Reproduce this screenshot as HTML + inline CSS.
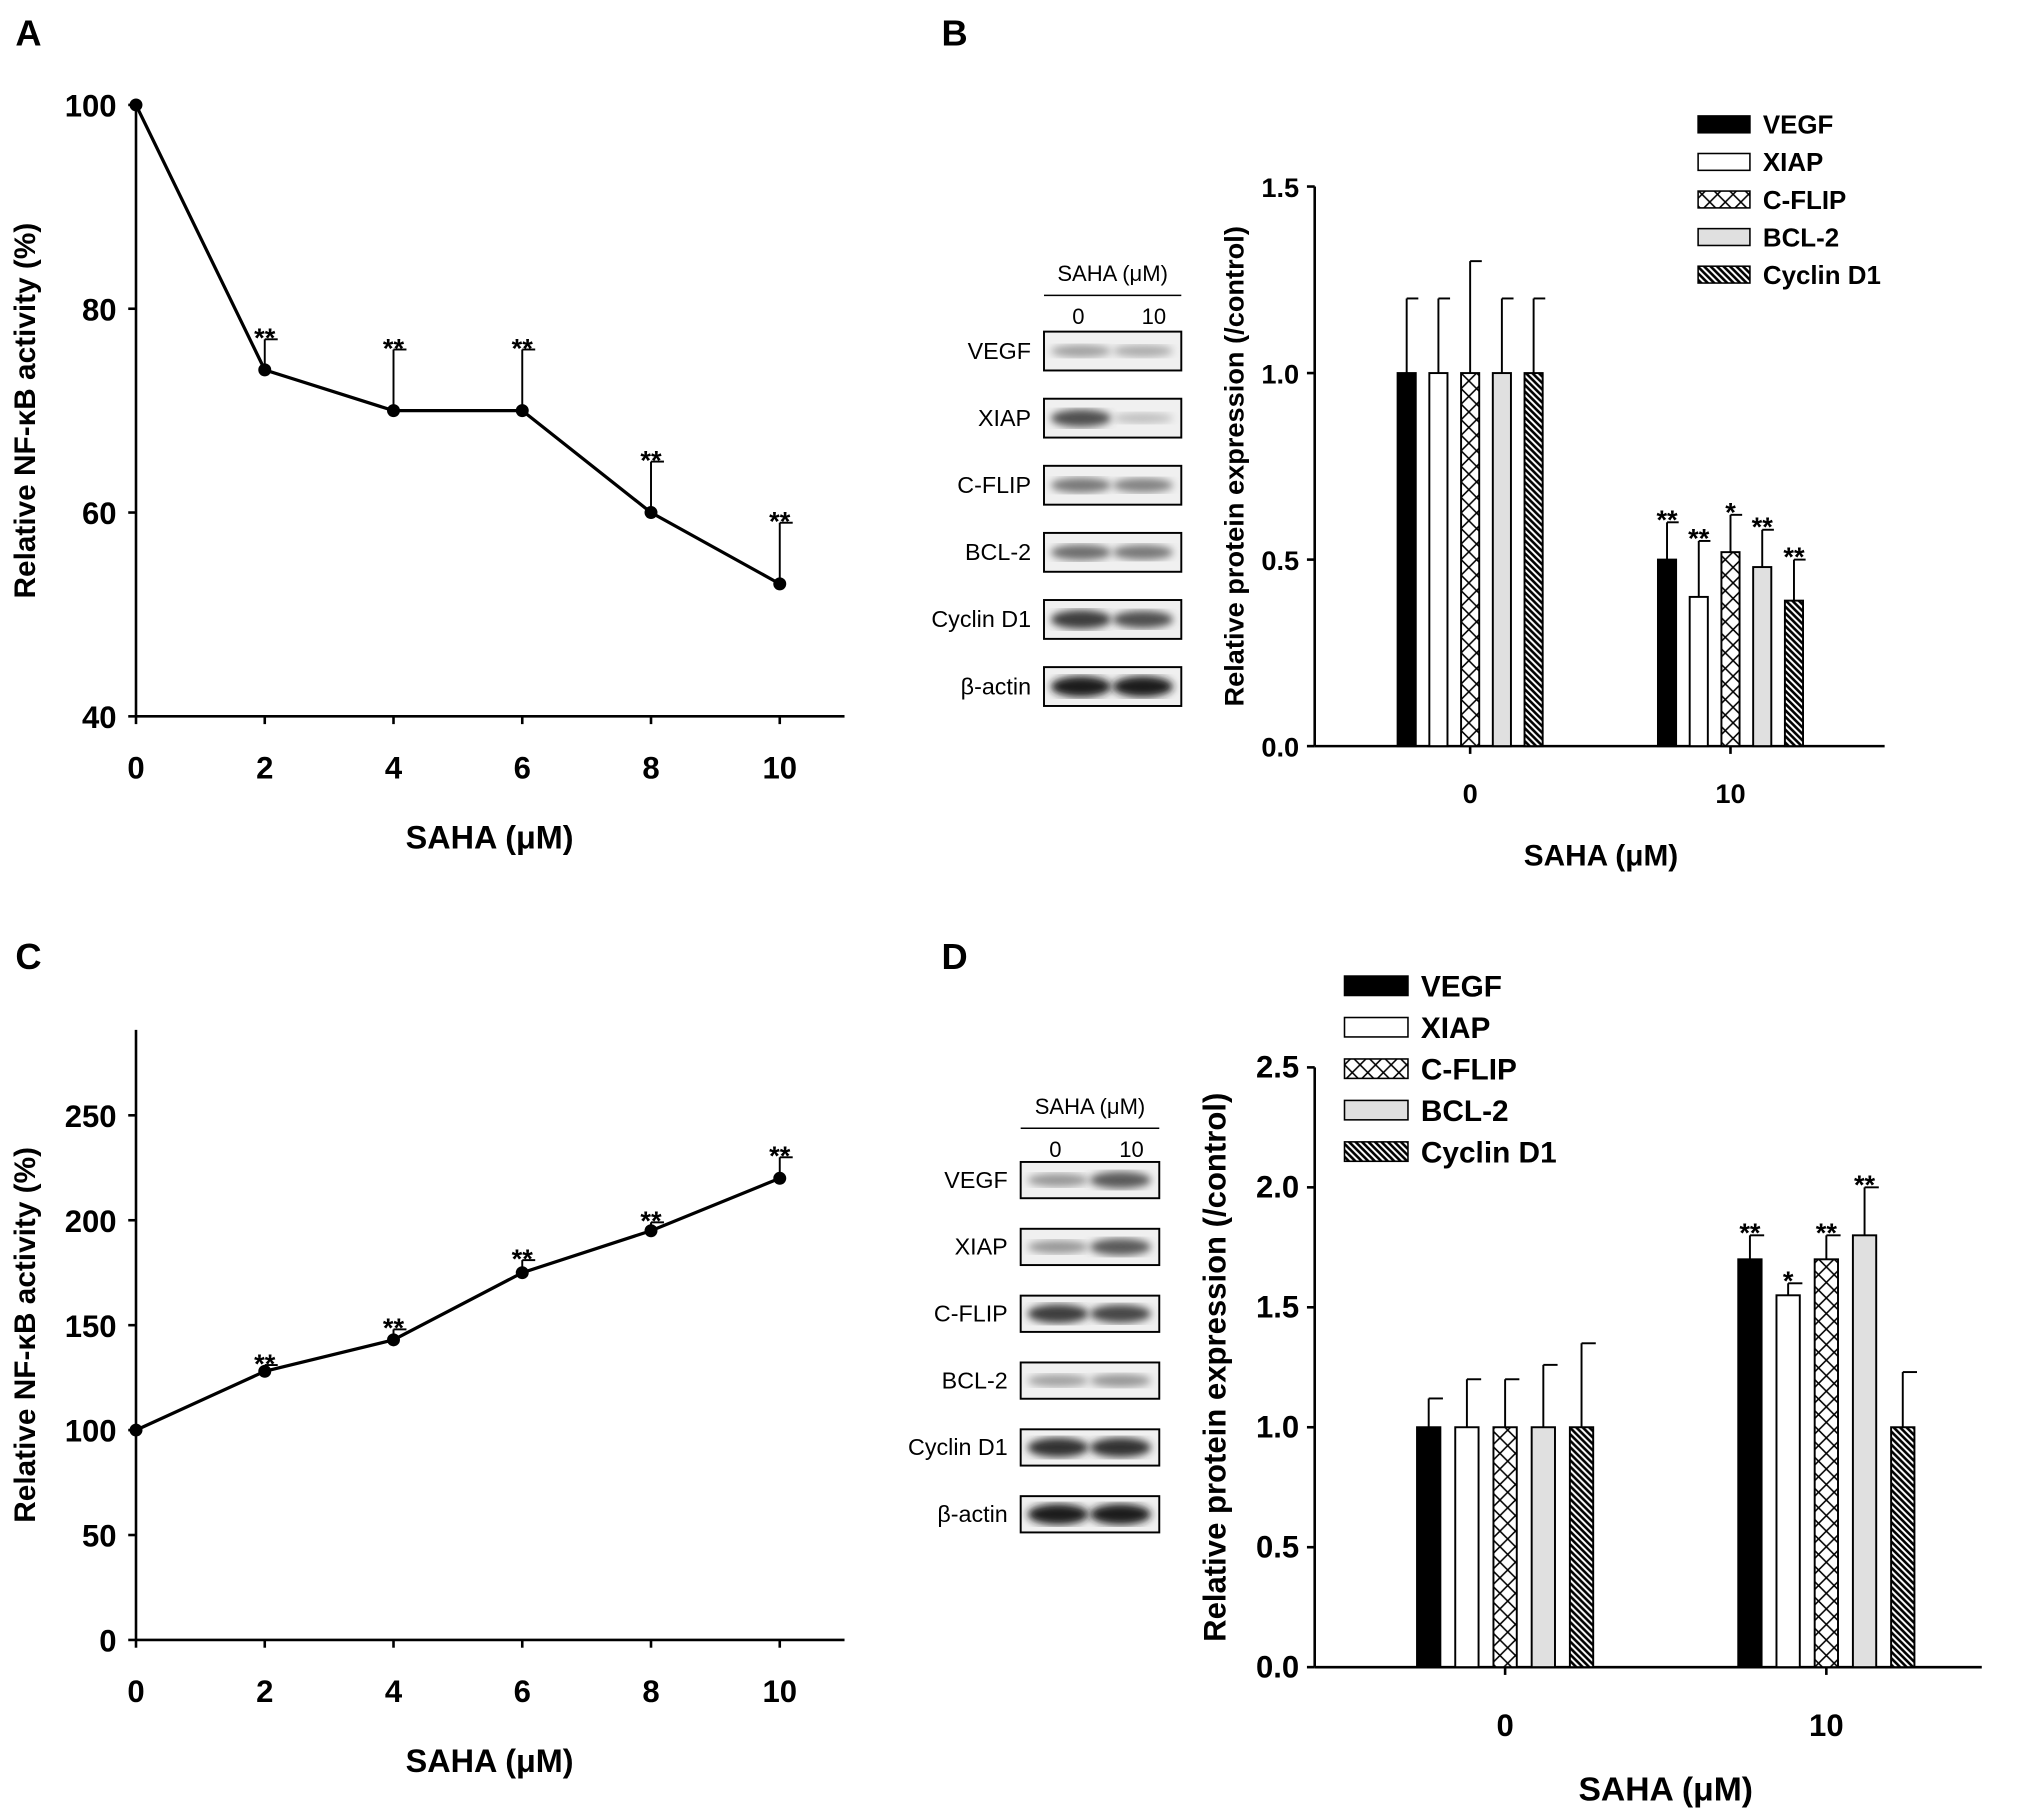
<!DOCTYPE html>
<html><head><meta charset="utf-8"><style>
html,body{margin:0;padding:0;background:#fff;}
svg{display:block;font-family:"Liberation Sans",Arial,sans-serif;}
</style></head><body>
<svg id="fig" width="2031" height="1820" viewBox="0 0 1568 1405" preserveAspectRatio="none" xmlns="http://www.w3.org/2000/svg">
<defs>
<pattern id="xh" width="12" height="12" patternUnits="userSpaceOnUse"><rect width="12" height="12" fill="#fff"/><path d="M0,0L12,12M12,0L0,12" stroke="#000" stroke-width="1.2"/></pattern>
<pattern id="dg" width="5" height="5" patternUnits="userSpaceOnUse"><rect width="5" height="5" fill="#fff"/><path d="M-1,-1L6,6M-1,4L1,6M4,-1L6,1" stroke="#000" stroke-width="2"/></pattern>
<filter id="bl"><feGaussianBlur stdDeviation="3"/></filter>
</defs>
</svg>
<script>
const NS="http://www.w3.org/2000/svg";
const svg=document.getElementById('fig');
function el(t,a,p){const e=document.createElementNS(NS,t);for(const k in a)e.setAttribute(k,a[k]);(p||svg).appendChild(e);return e;}
function tx(x,y,s,size,o){const e=el('text',Object.assign({x:x,y:y,'font-size':size,'font-weight':'bold','text-anchor':'middle'},o||{}));e.textContent=s;return e;}

// ---- data ----
const lineX=[0,2,4,6,8,10];
const aVals=[100,74,70,70,60,53];
const aErr=[0,3,6,6,5,6];
const aSig=["","**","**","**","**","**"];
const aTicks=[40,60,80,100];
const cVals=[100,128,143,175,195,220];
const cErr=[0,3,5,6,4,10];
const cSig=["","**","**","**","**","**"];
const cTicks=[0,50,100,150,200,250];
const xTicks=[0,2,4,6,8,10];
const proteins=["VEGF","XIAP","C-FLIP","BCL-2","Cyclin D1"];
const barGroups=["0","10"];
const bVals0=[1,1,1,1,1];
const bErr0=[0.2,0.2,0.3,0.2,0.2];
const bVals10=[0.5,0.4,0.52,0.48,0.39];
const bErr10=[0.1,0.15,0.1,0.1,0.11];
const bSig10=["**","**","*","**","**"];
const bTicks=[0,0.5,1.0,1.5];
const dVals0=[1,1,1,1,1];
const dErr0=[0.12,0.2,0.2,0.26,0.35];
const dVals10=[1.7,1.55,1.7,1.8,1.0];
const dErr10=[0.1,0.05,0.1,0.2,0.23];
const dSig10=["**","*","**","**",""];
const dTicks=[0,0.5,1.0,1.5,2.0,2.5];
const fills=["#000","#fff","url(#xh)","#e0e0e0","url(#dg)"];

[["A",22,35],["B",737,35],["C",22,748],["D",737,748]].forEach(p=>{const t=tx(p[1],p[2],p[0],28);

});

function lineChart(id,vals,err,sig,ticks,ymin,ymax,y0,y1,top){
  const g=el('g',{});
  
  
  const X=v=>105+v*(602-105)/10, Y=v=>y0+(v-ymin)*(y1-y0)/(ymax-ymin);
  el('line',{x1:105,y1:top,x2:105,y2:y0,stroke:'#000','stroke-width':2},g);
  el('line',{x1:105,y1:y0,x2:652,y2:y0,stroke:'#000','stroke-width':2},g);
  ticks.forEach(t=>{el('line',{x1:99,y1:Y(t),x2:105,y2:Y(t),stroke:'#000','stroke-width':2},g);
    const l=tx(90,Y(t)+9,String(t),24,{'text-anchor':'end'});g.appendChild(l);
    });
  xTicks.forEach(t=>{el('line',{x1:X(t),y1:y0,x2:X(t),y2:y0+6,stroke:'#000','stroke-width':2},g);
    const l=tx(X(t),y0+48,String(t),24);g.appendChild(l);
    });
  el('polyline',{points:vals.map((v,i)=>X(lineX[i])+','+Y(v)).join(' '),fill:'none',stroke:'#000','stroke-width':2.5},g);
  vals.forEach((v,i)=>{const x=X(lineX[i]),y=Y(v);
    if(err[i]){const ye=Y(v+err[i]);el('line',{x1:x,y1:y,x2:x,y2:ye,stroke:'#000','stroke-width':1.5},g);el('line',{x1:x,y1:ye,x2:x+10,y2:ye,stroke:'#000','stroke-width':1.5},g);}
    const c=el('circle',{cx:x,cy:y,r:5,fill:'#000'},g);
    
    if(sig[i]){const s=tx(x,Y(v+err[i])+6,sig[i],21);g.appendChild(s);}
  });
  const xt=tx(378,y0+102,'SAHA (μM)',25);g.appendChild(xt);
  
  const cy=(top+y0)/2;
  const yt=tx(0,0,'Relative NF-κB activity (%)',23,{transform:'translate(27,'+cy+') rotate(-90)'});g.appendChild(yt);
  
}
lineChart('a',aVals,aErr,aSig,aTicks,40,100,553,81,81);
lineChart('c',cVals,cErr,cSig,cTicks,0,250,1266,861,795);

function barChart(id,v0,e0,v10,e10,sig,ticks,ymax,y0,y1,x0,x1,gc,sp,bw,xtY,titleX,titleY,ytX,fs){
  const g=el('g',{});
  
  
  const Y=v=>y0+v*(y1-y0)/ymax;
  el('line',{x1:x0,y1:Y(ymax),x2:x0,y2:y0,stroke:'#000','stroke-width':2},g);
  el('line',{x1:x0,y1:y0,x2:x1,y2:y0,stroke:'#000','stroke-width':2},g);
  ticks.forEach(t=>{el('line',{x1:x0-6,y1:Y(t),x2:x0,y2:Y(t),stroke:'#000','stroke-width':2},g);
    const l=tx(x0-12,Y(t)+8,t.toFixed(1),fs,{'text-anchor':'end'});g.appendChild(l);
    });
  [[v0,e0,null],[v10,e10,sig]].forEach((set,gi)=>{
    const c=gc[gi];
    el('line',{x1:c,y1:y0,x2:c,y2:y0+6,stroke:'#000','stroke-width':2},g);
    const l=tx(c,xtY,barGroups[gi],fs);g.appendChild(l);
    
    set[0].forEach((v,i)=>{const bx=c+(i-2)*sp-bw/2;
      const r=el('rect',{x:bx,y:Y(v),width:bw,height:y0-Y(v),fill:fills[i],stroke:'#000','stroke-width':1.5},g);
      
      
      const xm=bx+bw/2,ye=Y(v+set[1][i]);
      el('line',{x1:xm,y1:Y(v),x2:xm,y2:ye,stroke:'#000','stroke-width':1.5},g);
      el('line',{x1:xm,y1:ye,x2:xm+bw/2+2,y2:ye,stroke:'#000','stroke-width':1.5},g);
      if(set[2]&&set[2][i]){const s=tx(xm,ye+5,set[2][i],21);g.appendChild(s);}
    });
  });
  const xt=tx(titleX,titleY,'SAHA (μM)',fs+2);g.appendChild(xt);
  
  const yt=tx(0,0,'Relative protein expression (/control)',fs,{transform:'translate('+ytX+','+((Y(ymax)+y0)/2)+') rotate(-90)'});g.appendChild(yt);
  
}
barChart('b',bVals0,bErr0,bVals10,bErr10,bSig10,bTicks,1.5,576,144,1015,1455,[1135,1336],24.5,14,620,1236,668,960,21);
barChart('d',dVals0,dErr0,dVals10,dErr10,dSig10,dTicks,2.5,1287,824,1015,1530,[1162,1410],29.5,18,1340,1286,1390,946,24);

function legend(id,x,y0,step,bw,bh,fs){
  proteins.forEach((p,i)=>{const y=y0+i*step;
    const r=el('rect',{x:x,y:y-bh/2,width:bw,height:bh,fill:fills[i],stroke:'#000','stroke-width':1.2});
    
    const t=tx(x+bw+10,y+fs*0.36,p,fs,{'text-anchor':'start'});
    });
}
legend('b',1311,96,29,40,13,20);
legend('d',1038,761,32,49,15,23);

const blotLabels=["VEGF","XIAP","C-FLIP","BCL-2","Cyclin D1","β-actin"];
const blotB=[[0.35,0.3],[0.75,0.2],[0.55,0.5],[0.6,0.55],[0.85,0.75],[1,1]];
const blotD=[[0.4,0.7],[0.4,0.7],[0.85,0.8],[0.35,0.4],[0.9,0.9],[1,1]];
function blot(id,x,w,rows,h,step,hdrY,labels,inten){
  const g=el('g',{});
  
  
  const h1=tx(x+w/2,hdrY,'SAHA (μM)',17,{'font-weight':'normal'});g.appendChild(h1);
  el('line',{x1:x,y1:hdrY+11,x2:x+w,y2:hdrY+11,stroke:'#000','stroke-width':1.2},g);
  g.appendChild(tx(x+w*0.25,hdrY+33,'0',17,{'font-weight':'normal'}));
  g.appendChild(tx(x+w*0.8,hdrY+33,'10',17,{'font-weight':'normal'}));
  labels.forEach((lab,i)=>{const cy=rows+i*step;
    el('rect',{x:x,y:cy-h/2,width:w,height:h,fill:'#f0f0f0',stroke:'#000','stroke-width':1.5},g);
    inten[i].forEach((v,j)=>{const c=Math.round(230-200*v);
      el('ellipse',{cx:x+w*(j?0.72:0.27),cy:cy,rx:w*0.22,ry:3+5*v,fill:'rgb('+c+','+c+','+c+')',filter:'url(#bl)'},g);});
    const t=tx(x-10,cy+6,lab,18,{'font-weight':'normal','text-anchor':'end'});g.appendChild(t);
    
  });
}
blot('b',806,106,271,30,51.8,217,blotLabels,blotB);
blot('d',788,107,911,28,51.6,860,blotLabels,blotD);
</script>
</body></html>
